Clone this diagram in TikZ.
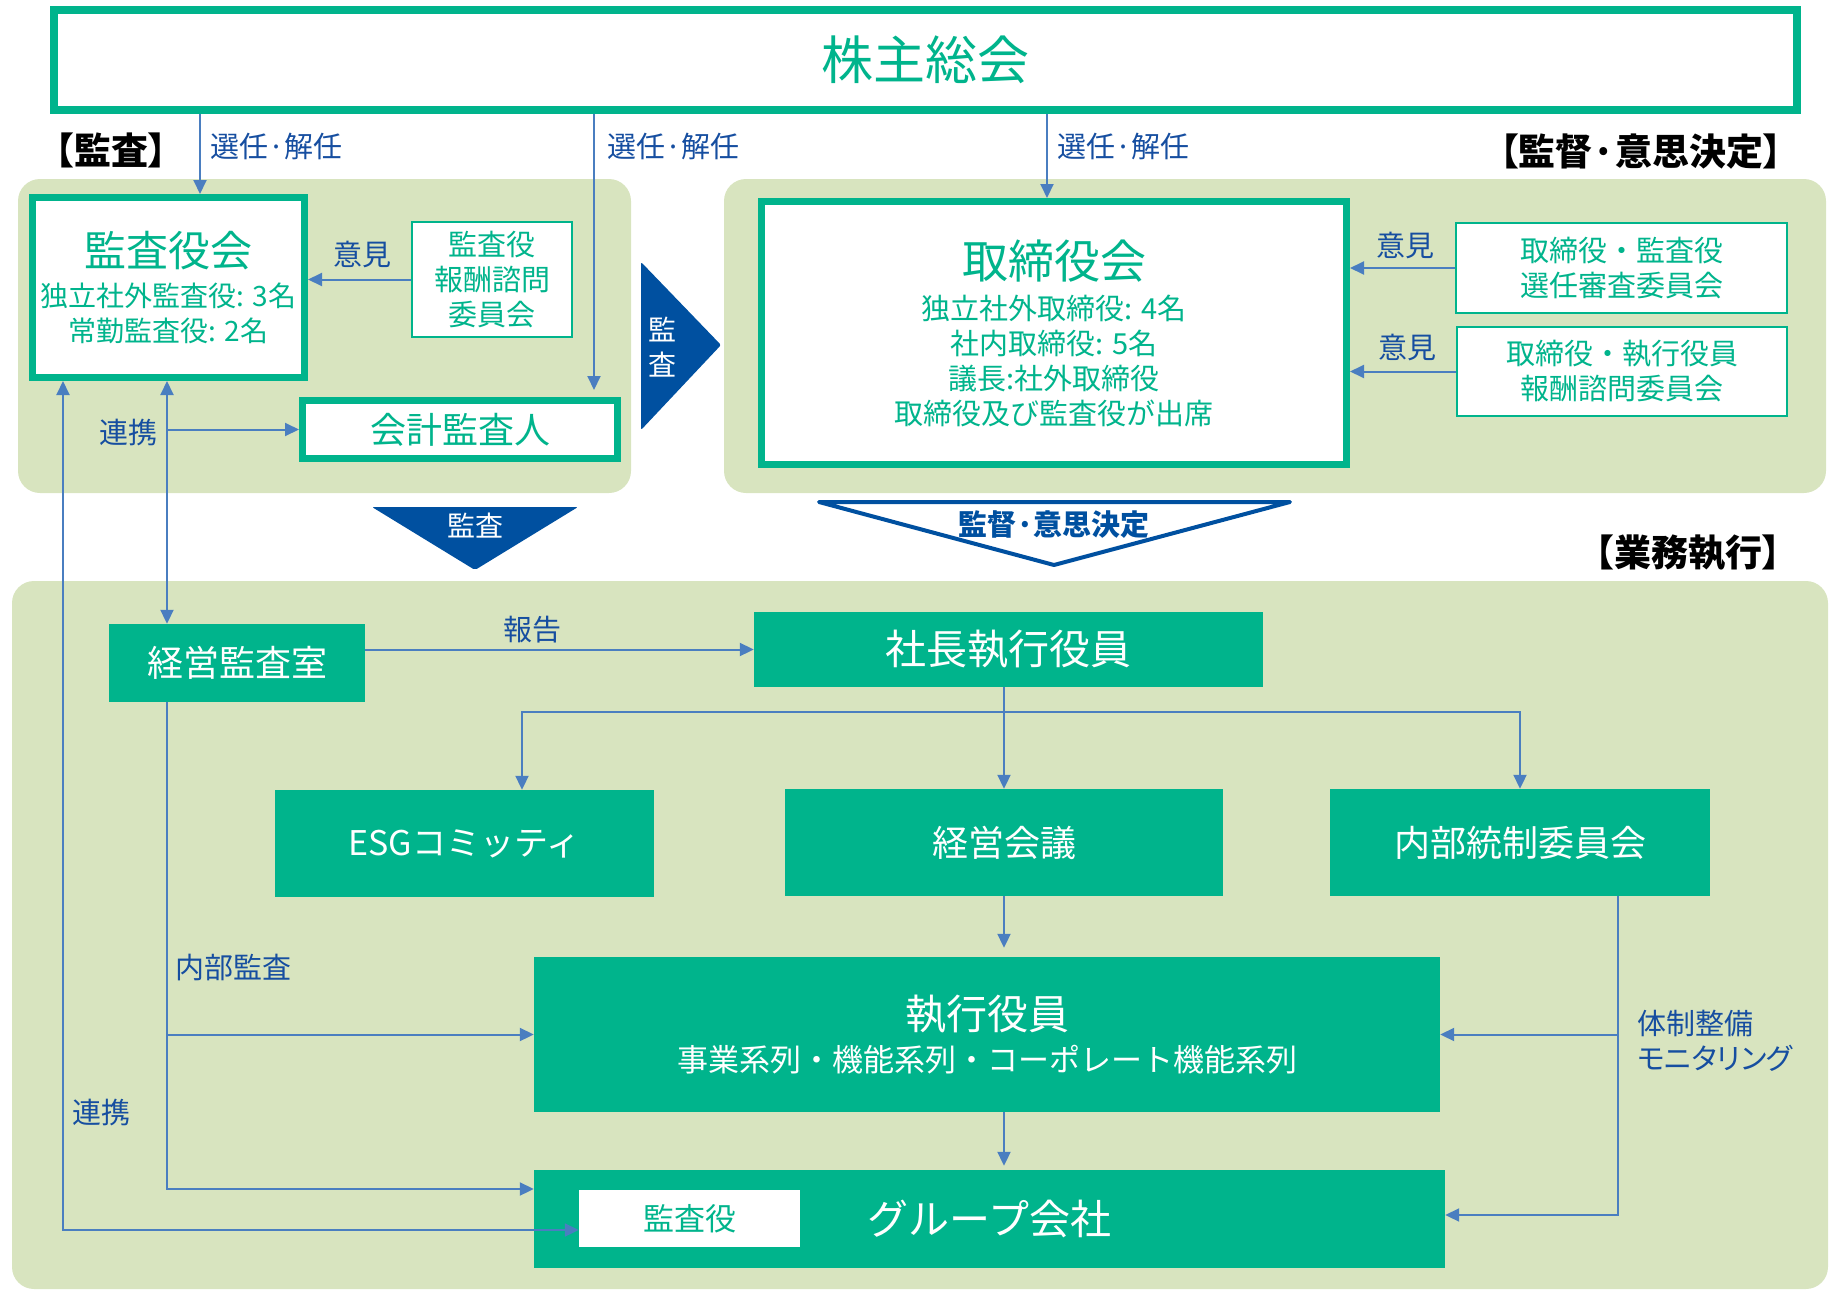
\documentclass[tikz,border=0pt]{standalone}
\usepackage{fontspec}
\setmainfont{Noto Sans CJK JP}
\newfontfamily\bracketfont[RawFeature=+palt]{Noto Sans CJK JP}
\usetikzlibrary{arrows.meta}
\definecolor{boxgreen}{RGB}{0,180,140}
\definecolor{panelgreen}{RGB}{216,228,191}
\definecolor{arrowblue}{RGB}{74,126,192}
\definecolor{labelblue}{RGB}{22,78,160}
\definecolor{navy}{RGB}{0,80,160}
\newcommand{\fsz}[2]{\fontsize{#1}{#2}\selectfont}

\begin{document}
\begin{tikzpicture}[x=1pt,y=-1pt,
	panel/.style={fill=panelgreen,rounded corners=22pt},
	thickbox/.style={draw=boxgreen,line width=7pt,fill=white,text=boxgreen,inner sep=0pt,align=center},
	thinbox/.style={draw=boxgreen,line width=1.5pt,fill=white,text=boxgreen,inner sep=0pt,align=center,font=\fsz{29}{35}},
	greenbox/.style={fill=boxgreen,text=white,inner sep=0pt,align=center,font=\fsz{41}{48}},
	lbl/.style={text=labelblue,inner sep=0pt,font=\fsz{29}{35}},
	head/.style={inner sep=0pt,font=\bracketfont\bfseries\fsz{37}{40}},
	arr/.style={draw=arrowblue,line width=2pt,-{Triangle[length=14pt,width=13pt]}},
	arrs/.style={arr,{Triangle[length=14pt,width=13pt]}-{Triangle[length=14pt,width=13pt]}}]
	\useasboundingbox (0,0) rectangle (1832,1290);
	\path[panel] (18,179) rectangle (631,493);
	\path[panel] (724,179) rectangle (1826,493);
	\path[panel] (12,581) rectangle (1828,1289);

	\node[thickbox,line width=8pt,minimum width=1743,minimum height=100,font=\fsz{52}{60}] (soukai) at (925.5,60) {株主総会};
	\node[head] (hkansa) at (111,150) {【監査】};
	\node[head] (hkantoku) at (1641,152) {【監督·意思決定】};
	\node[head] (hgyomu) at (1688,553) {【業務執行】};
	\node[lbl,anchor=west] (sen1) at (210,146) {選任·解任};
	\node[lbl,anchor=west] (sen2) at (607,146) {選任·解任};
	\node[lbl,anchor=west] (sen3) at (1057,146) {選任·解任};

	\node[thickbox,minimum width=272,minimum height=180,font=\fsz{28}{35}] (kansayakukai) at (168.5,287.5) {{\fsz{42}{46}監査役会}\\[5pt]独立社外監査役: 3名\\常勤監査役: 2名};
	\node[thinbox,minimum width=160,minimum height=115] (kansahoshu) at (492,279.5) {監査役\\報酬諮問\\委員会};
	\node[thickbox,minimum width=315,minimum height=58,font=\fsz{36}{40}] (kaikei) at (460,429.5) {会計監査人};
	\node[thickbox,minimum width=585,minimum height=263,font=\fsz{29}{35}] (torikai) at (1054,333) {{\fsz{46}{50}取締役会}\\[6pt]独立社外取締役: 4名\\社内取締役: 5名\\議長:社外取締役\\取締役及び監査役が出席};
	\node[thinbox,minimum width=331,minimum height=90] (senin) at (1621.5,268) {取締役・監査役\\選任審査委員会};
	\node[thinbox,minimum width=330,minimum height=89] (hoshu) at (1622,371.5) {取締役・執行役員\\報酬諮問委員会};

	\fill[navy,rounded corners=2pt] (641,262) -- (721,345) -- (641,430) -- cycle;
	\node[text=white,inner sep=0pt,align=center,font=\fsz{28}{35}] (kansaR) at (662,347) {監\\査};
	\fill[navy,rounded corners=2pt] (372,507) -- (578,507) -- (475,570) -- cycle;
	\node[text=white,inner sep=0pt,font=\fsz{28}{35}] (kansaD) at (475,526) {監査};
	\draw[navy,line width=4pt,fill=white,line join=round] (819,502) -- (1290,502) -- (1054,565) -- cycle;
	\node[text=navy,inner sep=0pt,font=\bfseries\fsz{29}{35}] (kantoku) at (1054,525) {監督·意思決定};

	\node[greenbox,minimum width=256,minimum height=78,font=\fsz{36}{40}] (keieikansa) at (237,663) {経営監査室};
	\node[greenbox,minimum width=509,minimum height=75] (shacho) at (1008.5,649.5) {社長執行役員};
	\node[greenbox,minimum width=379,minimum height=107,font=\fsz{34}{40}] (esg) at (464.5,843.5) {ESGコミッティ};
	\node[greenbox,minimum width=438,minimum height=107,font=\fsz{36}{40}] (kaigi) at (1004,842.5) {経営会議};
	\node[greenbox,minimum width=380,minimum height=107,font=\fsz{36}{40}] (naibu) at (1520,842.5) {内部統制委員会};
	\node[greenbox,minimum width=906,minimum height=155] (shikko) at (987,1034.5) {執行役員\\[-6pt]{\fsz{31}{35}事業系列・機能系列・コーポレート機能系列}};
	\node[greenbox,minimum width=911,minimum height=98] (group) at (989.5,1219) {グループ会社};
	\node[fill=white,text=boxgreen,inner sep=0pt,minimum width=221,minimum height=57,font=\fsz{31}{35}] (gkansa) at (689.5,1218.5) {監査役};

	\node[lbl] (iken1) at (362,254) {意見};
	\node[lbl] (iken2) at (1405,245) {意見};
	\node[lbl] (iken3) at (1407,347) {意見};
	\node[lbl] (renkei1) at (128,433) {連携};
	\node[lbl] (renkei2) at (101,1112) {連携};
	\node[lbl] (hokoku) at (532,630) {報告};
	\node[lbl] (naibukansa) at (233,967) {内部監査};
	\node[lbl,anchor=west,align=left] (taisei) at (1637,1041) {体制整備\\{\bracketfont モニタリング}};

	\coordinate (xa) at (200,0);
	\coordinate (xb) at (594,0);
	\coordinate (xc) at (1047,0);
	\coordinate (xd) at (167,0);
	\coordinate (xe) at (63,0);
	\coordinate (xf) at (522,0);
	\coordinate (xg) at (1618,0);
	\coordinate (br) at (1004,712);
	\draw[arr] (soukai.south -| xa) -- (kansayakukai.north -| xa);
	\draw[arr,shorten >=7pt] (soukai.south -| xb) -- (kaikei.north -| xb);
	\draw[arr] (soukai.south -| xc) -- (torikai.north -| xc);
	\draw[arr] (kansahoshu.west) -- (kansayakukai.east |- kansahoshu.west);
	\draw[arr] (senin.west) -- (torikai.east |- senin.west);
	\draw[arr] (hoshu.west) -- (torikai.east |- hoshu.west);
	\draw[arrs] (kansayakukai.south -| xd) -- (keieikansa.north -| xd);
	\draw[arr] (xd |- kaikei.west) -- (kaikei.west);
	\draw[arrs] (kansayakukai.south -| xe) |- ([yshift=-11.5pt]gkansa.west);
	\draw[arr] (keieikansa.east |- shacho.west) -- (shacho.west);
	\draw[arr] (shacho.south -| br) -- (kaigi.north);
	\draw[arr] (br) -| (naibu.north);
	\draw[arr] (br) -| (esg.north -| xf);
	\draw[arr,shorten >=9pt] (kaigi.south) -- (shikko.north -| kaigi.south);
	\draw[arr,shorten >=4pt] (shikko.south -| kaigi.south) -- (group.north -| kaigi.south);
	\draw[arr] (naibu.south -| xg) |- ([yshift=4pt]group.east);
	\draw[arr] (xg |- shikko.east) -- (shikko.east);
	\draw[arr] (keieikansa.south -| xd) |- ([yshift=30pt]group.west);
	\draw[arr] (xd |- shikko.west) -- (shikko.west);
\end{tikzpicture}
\end{document}
